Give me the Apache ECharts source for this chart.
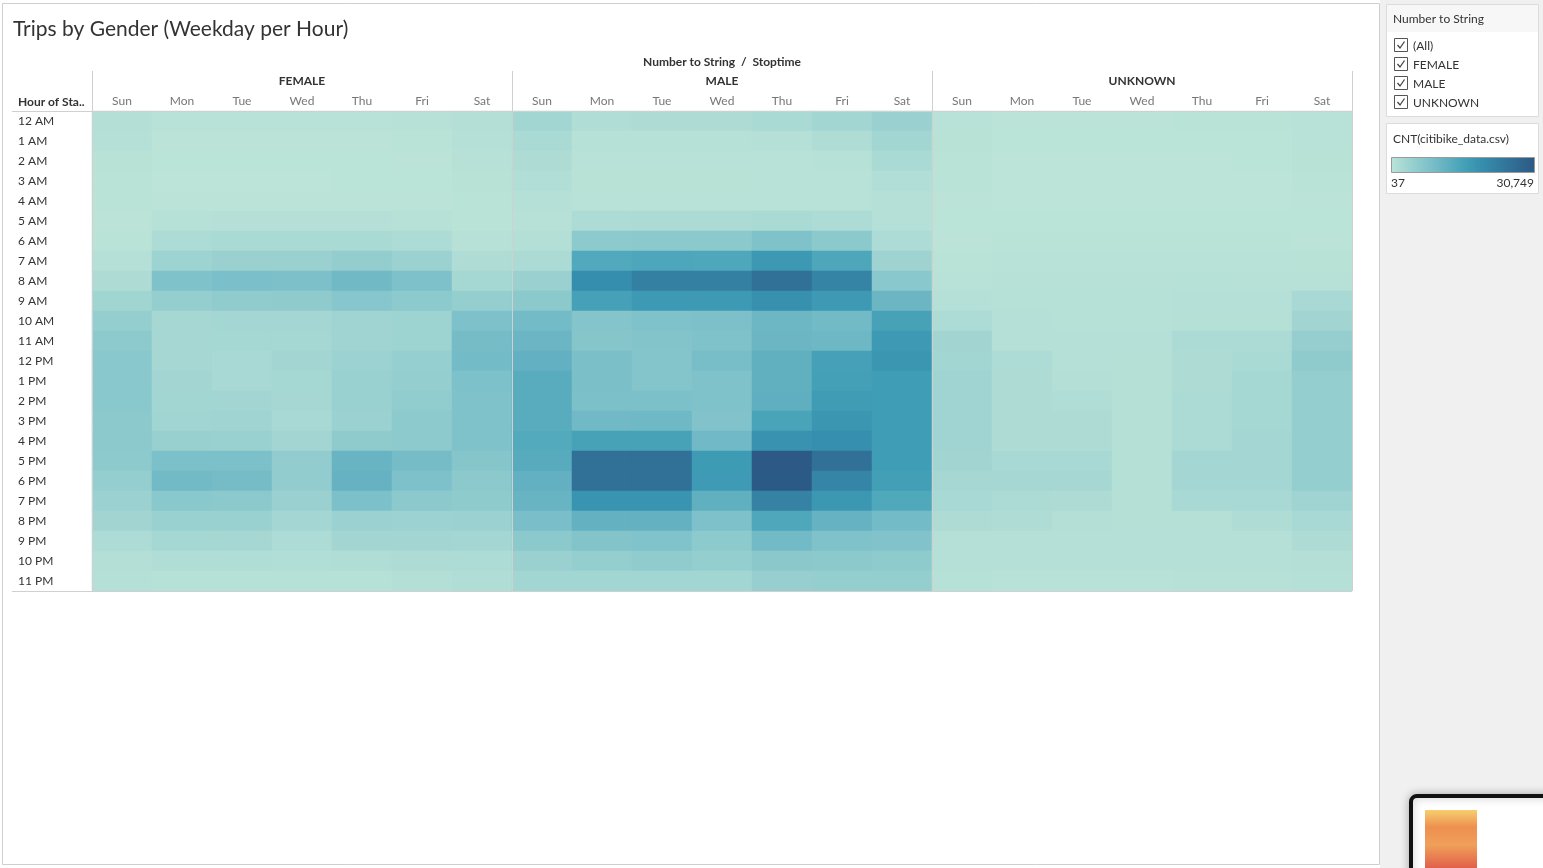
<!DOCTYPE html>
<html>
<head>
<meta charset="utf-8">
<script src="https://cdn.jsdelivr.net/npm/echarts@6/dist/echarts.min.js"></script>
<style>
  html, body { margin: 0; padding: 0; background: #ffffff; }
  #chart { width: 1543px; height: 868px; }
</style>
</head>
<body>
<div id="chart"></div>
<script>
const hours = ['12 AM','1 AM','2 AM','3 AM','4 AM','5 AM','6 AM','7 AM','8 AM','9 AM','10 AM','11 AM',
               '12 PM','1 PM','2 PM','3 PM','4 PM','5 PM','6 PM','7 PM','8 PM','9 PM','10 PM','11 PM'];
const days = ['Sun','Mon','Tue','Wed','Thu','Fri','Sat'];
const genders = ['FEMALE','MALE','UNKNOWN'];
const filterItems = ['(All)','FEMALE','MALE','UNKNOWN'];
const colorMin = 37;
const colorMax = 30749;
const palette = ['#bce4d8','#aedcd5','#a1d5d2','#95cecf','#89c8cc','#7ec1ca','#72bac6','#66b2c2','#59acbe','#4ba5ba',
                 '#419eb6','#3b96b2','#358ead','#3586a7','#347ea1','#32779b','#316f96','#2f6790','#2d608a','#2c5985'];

// rows = hours (12 AM .. 11 PM), columns = Sun .. Sat
const female = [
  [1000, 500, 500, 500, 550, 600, 1000],
  [800, 150, 150, 180, 200, 250, 800],
  [400, 100, 100, 100, 120, 150, 600],
  [300, 80, 80, 80, 100, 100, 400],
  [300, 150, 150, 150, 150, 150, 300],
  [200, 700, 750, 750, 750, 650, 300],
  [300, 1800, 2100, 2100, 2200, 1800, 600],
  [800, 3800, 4200, 4200, 5200, 4100, 1500],
  [1700, 8000, 8600, 8300, 10000, 8100, 2600],
  [3250, 4900, 5600, 5700, 6900, 5900, 5000],
  [4900, 2700, 2900, 2900, 3400, 3800, 8100],
  [6000, 2700, 2800, 2800, 3400, 3800, 9300],
  [6500, 2700, 2300, 3000, 4000, 4700, 9600],
  [6500, 3000, 2400, 2800, 4400, 5000, 8200],
  [6500, 3100, 3000, 2700, 4300, 5400, 8000],
  [6300, 3300, 3400, 2300, 4100, 6000, 8000],
  [6200, 4500, 4400, 3000, 5700, 6000, 8000],
  [6000, 8400, 8400, 5300, 11000, 9200, 7000],
  [5000, 9700, 9200, 5300, 11300, 8100, 6300],
  [4100, 6500, 6300, 4200, 8400, 6200, 5800],
  [3200, 4400, 4300, 2900, 4100, 3900, 4100],
  [1800, 2600, 2700, 1800, 3000, 3000, 2900],
  [1000, 1400, 1400, 1300, 1400, 1700, 1800],
  [800, 700, 700, 700, 700, 1000, 1400]
];
const male = [
  [3100, 1400, 1700, 1700, 2200, 3100, 4200],
  [2200, 700, 700, 700, 800, 1500, 3100],
  [1700, 500, 450, 500, 500, 700, 2200],
  [1300, 400, 400, 400, 450, 500, 1300],
  [800, 500, 500, 500, 500, 500, 800],
  [600, 1800, 1900, 1900, 2200, 1800, 800],
  [1000, 6000, 6200, 6200, 8000, 6300, 1800],
  [1900, 13800, 14300, 14200, 17300, 14400, 3700],
  [4200, 19400, 22200, 22200, 25700, 21400, 6500],
  [6200, 15400, 17000, 17000, 19100, 17100, 10500],
  [9600, 7300, 7900, 8300, 10400, 9700, 15300],
  [10700, 7000, 7400, 8000, 10500, 10300, 17100],
  [11800, 8500, 7300, 8900, 12000, 15400, 17800],
  [13000, 8500, 7300, 8000, 12000, 15800, 16400],
  [13000, 8400, 8400, 7900, 12200, 16600, 16400],
  [13000, 9900, 10200, 7600, 14800, 17800, 16400],
  [13500, 15300, 15300, 9900, 18600, 19200, 16400],
  [13200, 25600, 25600, 16900, 30749, 25700, 16400],
  [11800, 25600, 25600, 16800, 30500, 21200, 16000],
  [11000, 18300, 18300, 12000, 21800, 17600, 14000],
  [8700, 11700, 11700, 8100, 14200, 11400, 9600],
  [6300, 7400, 7700, 5900, 9800, 7900, 7600],
  [4200, 5000, 5600, 4900, 6400, 6300, 5800],
  [3100, 3100, 3100, 3100, 4600, 4900, 4900]
];
const unknown = [
  [500, 200, 200, 200, 250, 250, 500],
  [400, 100, 100, 100, 100, 120, 450],
  [300, 80, 80, 80, 80, 100, 350],
  [250, 60, 60, 60, 60, 80, 250],
  [150, 80, 80, 80, 80, 80, 150],
  [100, 120, 120, 120, 120, 120, 120],
  [150, 250, 250, 250, 280, 250, 200],
  [300, 450, 450, 450, 500, 450, 350],
  [500, 650, 650, 650, 700, 650, 600],
  [800, 700, 700, 700, 800, 800, 2400],
  [1800, 800, 700, 700, 900, 900, 3200],
  [3200, 800, 800, 800, 1900, 1900, 4800],
  [3100, 1800, 800, 900, 1700, 2200, 5700],
  [3400, 1600, 1000, 900, 1600, 2800, 5000],
  [3400, 1600, 1400, 900, 1900, 2800, 5000],
  [3400, 1600, 1600, 900, 1900, 2800, 5000],
  [3400, 1700, 1700, 900, 1900, 2900, 5000],
  [3200, 2400, 2400, 900, 2900, 2900, 5000],
  [2700, 2700, 2700, 900, 2900, 2900, 4900],
  [2400, 1900, 1700, 900, 2400, 2400, 3400],
  [1700, 1500, 1000, 900, 900, 1500, 2400],
  [800, 800, 800, 800, 800, 800, 1700],
  [800, 800, 800, 800, 800, 800, 1000],
  [700, 500, 500, 500, 600, 600, 800]
];

const seriesValues = [female, male, unknown];
const FONT = 'Lato, "Open Sans", sans-serif';

const gridLeft = 92, gridTop = 111, gridW = 420, gridH = 480;

const grids = [], xAxes = [], yAxes = [], series = [];
genders.forEach(function (g, i) {
  grids.push({ left: gridLeft + i * gridW, top: gridTop, width: gridW, height: gridH, containLabel: false });
  xAxes.push({
    gridIndex: i, type: 'category', data: days, position: 'top',
    axisLine: { show: false }, axisTick: { show: false }, splitLine: { show: false },
    axisLabel: { color: '#777', fontSize: 12, fontFamily: FONT, margin: 4 },
    name: g, nameLocation: 'middle', nameGap: 24,
    nameTextStyle: { color: '#333', fontSize: 12, fontFamily: FONT, fontWeight: 'bold' }
  });
  yAxes.push({
    gridIndex: i, type: 'category', data: hours, inverse: true,
    axisLine: { show: false }, axisTick: { show: false }, splitLine: { show: false },
    axisLabel: { show: i === 0, align: 'left', margin: gridLeft - 18, color: '#333', fontSize: 12, fontFamily: FONT }
  });
  const data = [];
  seriesValues[i].forEach(function (row, h) {
    row.forEach(function (v, d) { data.push([d, h, v]); });
  });
  series.push({
    type: 'heatmap', name: g, xAxisIndex: i, yAxisIndex: i, data: data,
    itemStyle: { borderWidth: 0 }, emphasis: { disabled: true }
  });
});

const sepColor = '#d0d0d0';
const graphic = [];
// separator lines
[0, 1, 2, 3].forEach(function (k) {
  const x = gridLeft + k * gridW + 0.5;
  graphic.push({ type: 'line', z: 100, shape: { x1: x, y1: 71, x2: x, y2: gridTop + gridH }, style: { stroke: sepColor, lineWidth: 1 } });
});
[gridTop + 0.5, gridTop + gridH + 0.5].forEach(function (y) {
  graphic.push({ type: 'line', z: 100, shape: { x1: 12, y1: y, x2: gridLeft + 3 * gridW, y2: y }, style: { stroke: sepColor, lineWidth: 1 } });
});
// header texts
graphic.push({ type: 'text', z: 100, style: { text: 'Number to String  /  Stoptime', x: 722, y: 62, align: 'center', verticalAlign: 'middle', fill: '#333', font: 'bold 12px ' + FONT } });
graphic.push({ type: 'text', z: 100, style: { text: 'Hour of Sta..', x: 18, y: 102, align: 'left', verticalAlign: 'middle', fill: '#333', font: 'bold 12px ' + FONT } });

// right side panel
graphic.push({ type: 'rect', z: -10, shape: { x: 1380, y: 0, width: 163, height: 868 }, style: { fill: '#f0f0f0' } });
graphic.push({ type: 'rect', z: -10, shape: { x: 2.5, y: 3.5, width: 1377, height: 861 }, style: { fill: '#ffffff', stroke: '#cfcfcf', lineWidth: 1 } });
// filter card
graphic.push({ type: 'rect', z: -5, shape: { x: 1386.5, y: 4.5, width: 152, height: 112 }, style: { fill: '#ffffff', stroke: '#dcdcdc', lineWidth: 1 } });
graphic.push({ type: 'rect', z: -4, shape: { x: 1387, y: 5, width: 151, height: 27 }, style: { fill: '#f7f7f7' } });
graphic.push({ type: 'text', z: 10, style: { text: 'Number to String', x: 1393, y: 19, verticalAlign: 'middle', fill: '#333', font: '12px ' + FONT } });
filterItems.forEach(function (t, k) {
  const cy = 45 + k * 19;
  graphic.push({ type: 'rect', z: 10, shape: { x: 1394.5, y: cy - 6.5, width: 13, height: 13 }, style: { fill: '#fff', stroke: '#555', lineWidth: 1 } });
  graphic.push({ type: 'polyline', z: 11, shape: { points: [[1397.5, cy], [1400, cy + 3], [1404.5, cy - 3.5]] }, style: { stroke: '#444', lineWidth: 1.3, fill: null } });
  graphic.push({ type: 'text', z: 10, style: { text: t, x: 1413, y: cy + 1, verticalAlign: 'middle', fill: '#333', font: '12px ' + FONT } });
});
// color legend card
graphic.push({ type: 'rect', z: -5, shape: { x: 1386.5, y: 123.5, width: 152, height: 70 }, style: { fill: '#ffffff', stroke: '#dcdcdc', lineWidth: 1 } });
graphic.push({ type: 'text', z: 10, style: { text: 'CNT(citibike_data.csv)', x: 1393, y: 139, verticalAlign: 'middle', fill: '#333', font: '12px ' + FONT } });
graphic.push({ type: 'rect', z: 10, shape: { x: 1391.5, y: 157.5, width: 143, height: 15 },
  style: { stroke: '#9a9a9a', lineWidth: 1,
    fill: new echarts.graphic.LinearGradient(0, 0, 1, 0, palette.map(function (c, i) { return { offset: i / (palette.length - 1), color: c }; })) } });
graphic.push({ type: 'text', z: 10, style: { text: String(colorMin), x: 1391, y: 183, verticalAlign: 'middle', fill: '#333', font: '12px ' + FONT } });
graphic.push({ type: 'text', z: 10, style: { text: colorMax.toLocaleString('en-US'), x: 1534, y: 183, align: 'right', verticalAlign: 'middle', fill: '#333', font: '12px ' + FONT } });

// thumbnail preview in the corner
graphic.push({ type: 'rect', z: 50, shape: { x: 1411, y: 796, width: 150, height: 90, r: 6 }, style: { fill: '#ffffff', stroke: '#111', lineWidth: 4, shadowBlur: 8, shadowColor: 'rgba(0,0,0,0.25)' } });
graphic.push({ type: 'rect', z: 51, shape: { x: 1425, y: 810, width: 52, height: 58 },
  style: { fill: new echarts.graphic.LinearGradient(0, 0, 0, 1, [{ offset: 0, color: '#f6cf6e' }, { offset: 0.3, color: '#ee8f50' }, { offset: 0.6, color: '#f0a05a' }, { offset: 1, color: '#e0604a' }]) } });

const chart = echarts.init(document.getElementById('chart'), null, { renderer: 'canvas' });
chart.setOption({
  backgroundColor: '#ffffff',
  animation: false,
  title: {
    text: 'Trips by Gender (Weekday per Hour)', left: 8, top: 14,
    textStyle: { fontSize: 21, fontWeight: 'normal', color: '#333', fontFamily: FONT }
  },
  grid: grids, xAxis: xAxes, yAxis: yAxes,
  visualMap: { show: false, type: 'continuous', min: colorMin, max: colorMax, dimension: 2,
    seriesIndex: [0, 1, 2], inRange: { color: palette } },
  series: series,
  graphic: graphic
});
</script>
</body>
</html>
